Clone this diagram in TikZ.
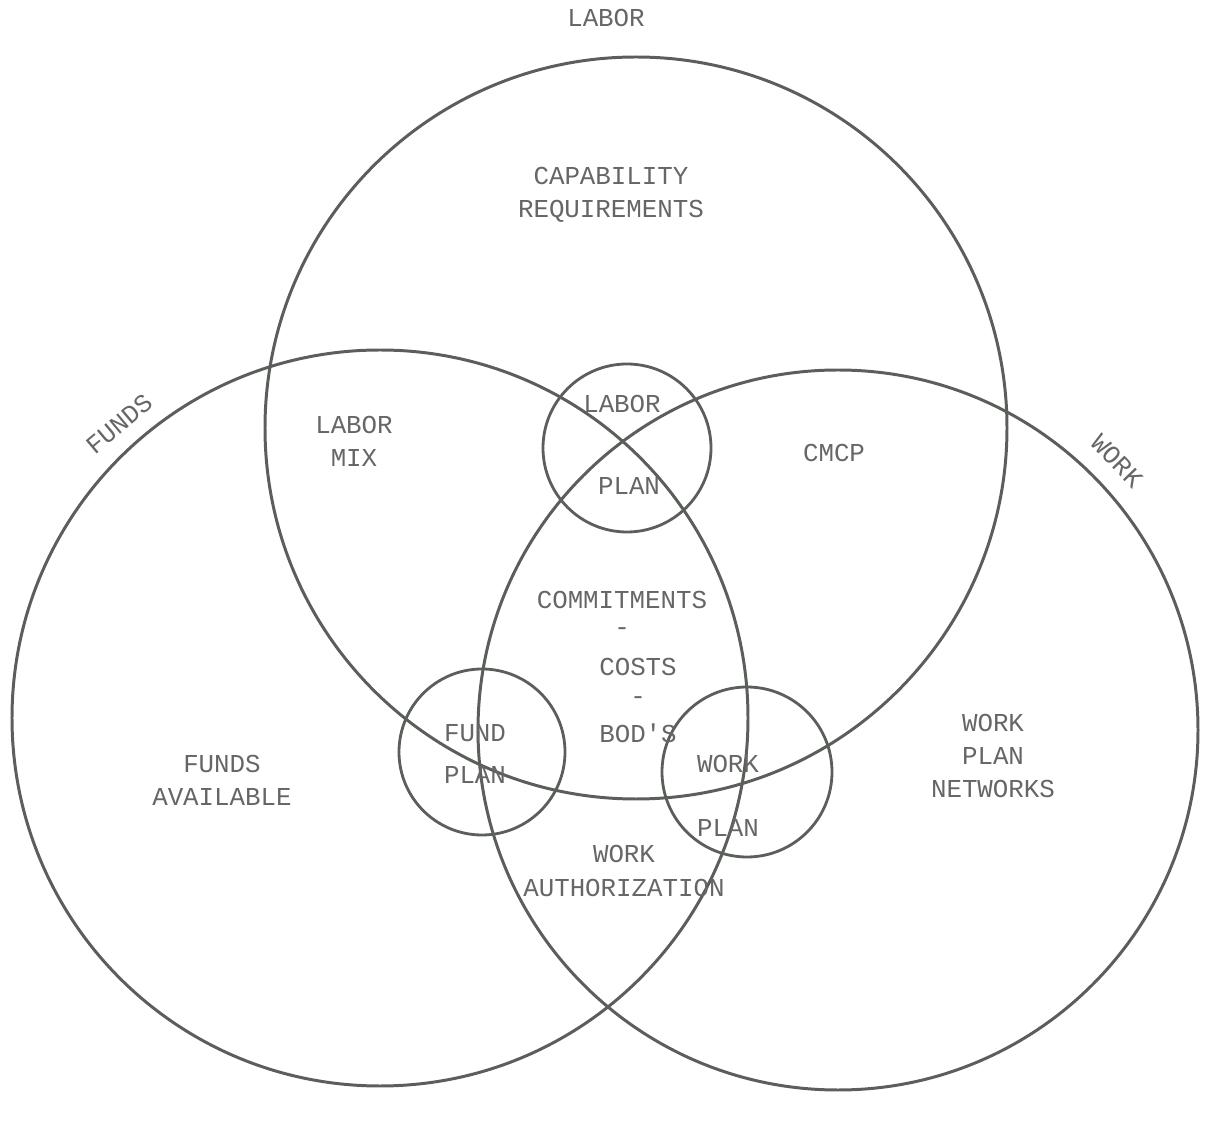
\documentclass[tikz,border=0pt]{standalone}
\usepackage{fontspec}
\setmonofont{Liberation Mono}
\usepackage{tikz}
\definecolor{inkline}{HTML}{5A5F5A}
\definecolor{inktext}{HTML}{666666}
\tikzset{
  venn big/.style={draw=inkline,line width=1.7pt},
  venn small/.style={draw=inkline,line width=1.6pt},
  venn text/.style={text=inktext,align=center,inner sep=0pt},
  venn gap/.style={venn text,font=\ttfamily\fontsize{14.7}{18.8}\selectfont}
}
\begin{document}
\begin{tikzpicture}[x=.02cm,y=-.02cm,font=\ttfamily\fontsize{14.7}{17}\selectfont]
  \useasboundingbox (0,0) rectangle (1208,1121);
  % the three fields
  \draw[venn big] (636,428) circle[radius=371];
  \draw[venn big] (380,718) circle[radius=368];
  \draw[venn big] (838,730) circle[radius=360];
  % the three plans
  \draw[venn small] (627,448) circle[radius=84];
  \draw[venn small] (482,752) circle[radius=83];
  \draw[venn small] (747,772) circle[radius=85];
  % field names
  \node[venn text] (labor) at (606,18) {LABOR};
  \node[venn text,rotate=40] (funds) at (119,424) {FUNDS};
  \node[venn text,rotate=-46] (work) at (1117,461) {WORK};
  % areas
  \node[venn gap] (capability) at (611,195) {CAPABILITY\\REQUIREMENTS};
  \node[venn gap] (labormix) at (354,441) {LABOR\\MIX};
  \node[venn text] (laborplanA) at (622,404) {LABOR};
  \node[venn text] (laborplanB) at (629,486) {PLAN};
  \node[venn text] (cmcp) at (834,453) {CMCP};
  \node[venn text] (commit) at (622,600) {COMMITMENTS};
  \node[venn text] (dashA) at (622,632) {-};
  \node[venn text] (costs) at (638,667) {COSTS};
  \node[venn text] (dashB) at (638,701) {-};
  \node[venn text] (bods) at (638,733) {BOD'S};
  \node[venn text] (fundplanA) at (475,733) {FUND};
  \node[venn text] (fundplanB) at (475,775) {PLAN};
  \node[venn gap] (available) at (222,780) {FUNDS\\AVAILABLE};
  \node[venn gap] (networks) at (993,756) {WORK\\PLAN\\NETWORKS};
  \node[venn text] (workplanA) at (728,764) {WORK};
  \node[venn text] (workplanB) at (728,828) {PLAN};
  \node[venn gap] (authorization) at (624,871) {WORK\\AUTHORIZATION};
\end{tikzpicture}
\end{document}
